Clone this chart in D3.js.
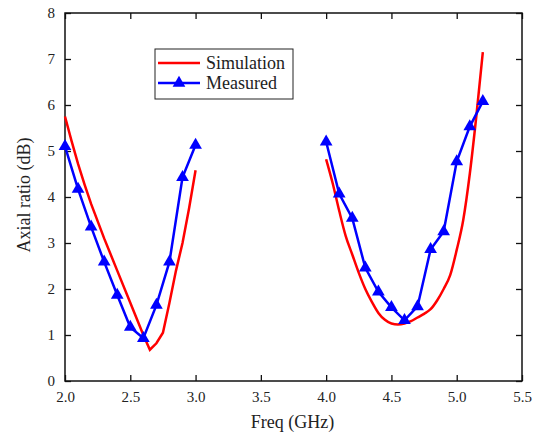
<!DOCTYPE html>
<html>
<head>
<meta charset="utf-8">
<script src="https://cdn.jsdelivr.net/npm/d3@7"></script>
<style>
  body { margin: 0; background: #fff; }
  svg text { font-family: "Times New Roman", "Liberation Serif", Times, "DejaVu Serif", serif; fill: #222; }
</style>
</head>
<body>
<div id="chart"></div>
<script>
// measured points, two bands
const measFreqLow = [2.0, 2.1, 2.2, 2.3, 2.4, 2.5, 2.6, 2.7, 2.8, 2.9, 3.0];
const measLow = [5.1, 4.17, 3.35, 2.59, 1.87, 1.17, 0.93, 1.65, 2.59, 4.43, 5.13];
const measFreqHigh = [4.0, 4.1, 4.2, 4.3, 4.4, 4.5, 4.6, 4.7, 4.8, 4.9, 5.0, 5.1, 5.2];
const measHigh = [5.2, 4.07, 3.54, 2.46, 1.94, 1.6, 1.32, 1.62, 2.86, 3.25, 4.77, 5.53, 6.08];

// simulation curves
const simFreqLow = [2.0, 2.05, 2.1, 2.15, 2.2, 2.3, 2.4, 2.5, 2.6, 2.65, 2.7, 2.75, 2.8, 2.85, 2.9, 2.95, 3.0];
const simLow = [5.75, 5.22, 4.72, 4.27, 3.85, 3.1, 2.4, 1.7, 1.0, 0.68, 0.82, 1.05, 1.7, 2.4, 3.0, 3.75, 4.58];
const simFreqHigh = [4.0, 4.05, 4.1, 4.15, 4.2, 4.25, 4.3, 4.35, 4.4, 4.45, 4.5, 4.55, 4.6, 4.65, 4.7, 4.75, 4.8, 4.85, 4.9, 4.95, 5.0, 5.05, 5.1, 5.15, 5.2];
const simHigh = [4.82, 4.3, 3.7, 3.15, 2.75, 2.35, 2.0, 1.72, 1.48, 1.33, 1.25, 1.23, 1.25, 1.3, 1.38, 1.46, 1.56, 1.75, 2.0, 2.3, 2.85, 3.5, 4.5, 5.75, 7.15];

const xTicks = [2.0, 2.5, 3.0, 3.5, 4.0, 4.5, 5.0, 5.5];
const yTicks = [0, 1, 2, 3, 4, 5, 6, 7, 8];
const legendNames = ["Simulation", "Measured"];

const width = 540, height = 437;
const mLeft = 65, mRight = 522, mTop = 13, mBottom = 381;
const serif = '"Times New Roman", "Liberation Serif", Times, "DejaVu Serif", serif';

const svg = d3.select("#chart").append("svg")
  .attr("width", width)
  .attr("height", height);

const x = d3.scaleLinear().domain([2.0, 5.5]).range([mLeft, mRight]);
const y = d3.scaleLinear().domain([0, 8]).range([mBottom, mTop]);

// axes, ticks pointing inward
svg.append("g")
  .attr("transform", `translate(0,${mBottom})`)
  .call(d3.axisBottom(x).tickValues(xTicks).tickFormat(d3.format(".1f"))
        .tickSizeInner(-6).tickSizeOuter(0).tickPadding(10));
svg.append("g")
  .attr("transform", `translate(0,${mTop})`)
  .call(d3.axisTop(x).tickValues(xTicks).tickFormat("")
        .tickSizeInner(-6).tickSizeOuter(0));
svg.append("g")
  .attr("transform", `translate(${mLeft},0)`)
  .call(d3.axisLeft(y).tickValues(yTicks).tickFormat(d3.format("d"))
        .tickSizeInner(-6).tickSizeOuter(0).tickPadding(10));
svg.append("g")
  .attr("transform", `translate(${mRight},0)`)
  .call(d3.axisRight(y).tickValues(yTicks).tickFormat("")
        .tickSizeInner(-6).tickSizeOuter(0));

svg.selectAll(".domain").remove();
svg.selectAll("g").attr("font-family", serif);
svg.selectAll(".tick line").attr("stroke", "#111").attr("stroke-width", 1.3);
svg.selectAll(".tick text")
  .attr("font-family", serif)
  .attr("font-size", 15)
  .attr("fill", "#222");

svg.append("rect")
  .attr("x", mLeft).attr("y", mTop)
  .attr("width", mRight - mLeft).attr("height", mBottom - mTop)
  .attr("fill", "none").attr("stroke", "#111").attr("stroke-width", 1.5);

// labels
svg.append("text")
  .attr("x", (mLeft + mRight) / 2 - 1).attr("y", 428)
  .attr("text-anchor", "middle")
  .attr("font-family", serif)
  .attr("font-size", 18)
  .text("Freq (GHz)");
svg.append("text")
  .attr("transform", "translate(30,195) rotate(-90)")
  .attr("text-anchor", "middle")
  .attr("font-family", serif)
  .attr("font-size", 18)
  .text("Axial ratio (dB)");

const line = d3.line().x(d => x(d[0])).y(d => y(d[1]));
const smooth = d3.line().x(d => x(d[0])).y(d => y(d[1])).curve(d3.curveMonotoneX);

const simA = simFreqLow.map((f, i) => [f, simLow[i]]);
const simB = simFreqHigh.map((f, i) => [f, simHigh[i]]);
const measA = measFreqLow.map((f, i) => [f, measLow[i]]);
const measB = measFreqHigh.map((f, i) => [f, measHigh[i]]);

svg.append("path").datum(simA).attr("d", line)
  .attr("fill", "none").attr("stroke", "#ff0000").attr("stroke-width", 2.5);
svg.append("path").datum(simB).attr("d", smooth)
  .attr("fill", "none").attr("stroke", "#ff0000").attr("stroke-width", 2.5);

[measA, measB].forEach(pts => {
  svg.append("path").datum(pts).attr("d", line)
    .attr("fill", "none").attr("stroke", "#0000ff").attr("stroke-width", 2.5);
  svg.selectAll(null).data(pts).enter()
    .append("path")
    .attr("d", d3.symbol(d3.symbolTriangle, 70))
    .attr("transform", d => `translate(${x(d[0])},${y(d[1])})`)
    .attr("fill", "#0000ff");
});

// legend
const legend = svg.append("g");
legend.append("rect")
  .attr("x", 155).attr("y", 49).attr("width", 138).attr("height", 50)
  .attr("fill", "#fff").attr("stroke", "#222").attr("stroke-width", 1);
const legColors = ["#ff0000", "#0000ff"];
legendNames.forEach((name, i) => {
  const ly = 63 + i * 20;
  legend.append("line")
    .attr("x1", 158).attr("x2", 200).attr("y1", ly).attr("y2", ly)
    .attr("stroke", legColors[i]).attr("stroke-width", 2.5);
  if (i === 1) {
    legend.append("path")
      .attr("d", d3.symbol(d3.symbolTriangle, 70))
      .attr("transform", `translate(179,${ly})`)
      .attr("fill", "#0000ff");
  }
  legend.append("text")
    .attr("x", 206).attr("y", ly + 6)
    .attr("font-family", serif)
    .attr("font-size", 18)
    .text(name);
});
</script>
</body>
</html>
